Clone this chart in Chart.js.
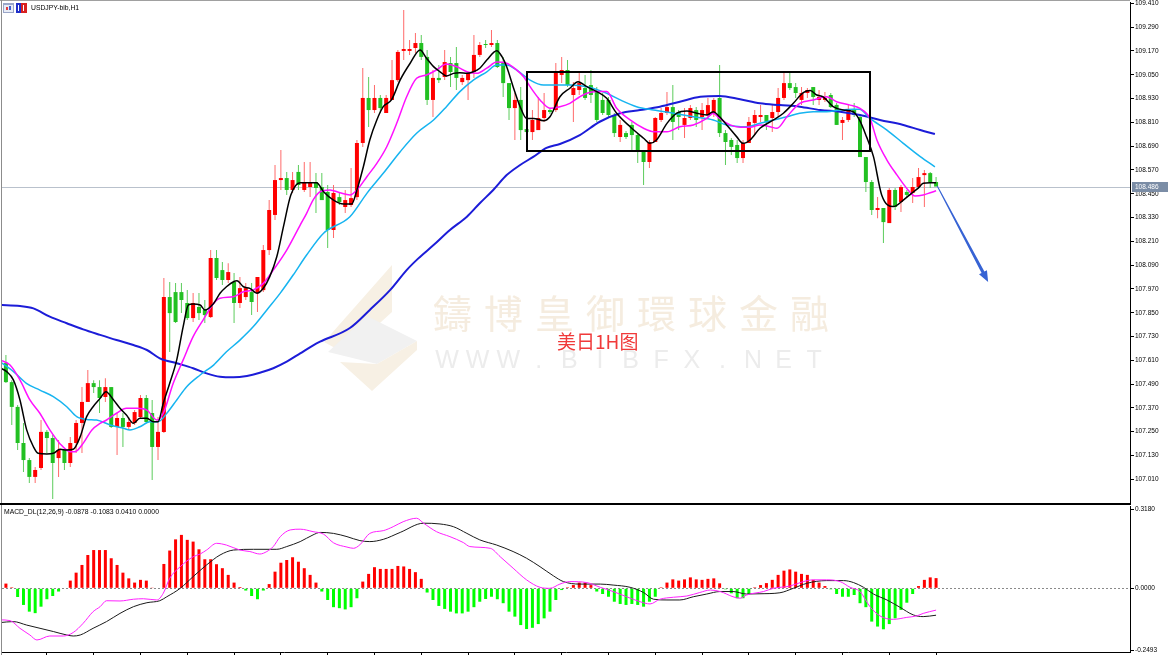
<!DOCTYPE html>
<html><head><meta charset="utf-8">
<script src="https://cdn.jsdelivr.net/npm/chart.js"></script>
<style>
html,body{margin:0;padding:0;background:#fff;overflow:hidden}
#wrap{position:relative;width:1170px;height:655px;background:#fff}
#main{position:absolute;left:0;top:0}
#macd{position:absolute;left:0;top:505px}
</style></head><body>
<div id="wrap">
<canvas id="main" width="1170" height="505"></canvas>
<canvas id="macd" width="1170" height="150"></canvas>
</div>
<script>
// ---------------- DATA ----------------
const symbolTitle = 'USDJPY-bib,H1';
const macdTitle = 'MACD_DL(12,26,9)';
const macdReadout = ['-0.0878', '-0.1083', '0.0410', '0.0000'];
const lastPrice = 108.486;

const open = [107.596,107.500,107.375,107.193,107.107,107.022,107.067,107.249,107.218,107.117,
107.158,107.092,107.193,107.294,107.400,107.495,107.475,107.425,107.475,107.274,
107.319,107.274,107.294,107.324,107.420,107.344,107.173,107.249,107.929,107.954,
107.954,107.899,107.823,107.879,107.864,107.828,108.126,108.065,108.015,108.005,
107.899,107.929,107.954,107.949,107.964,108.166,108.343,108.519,108.529,108.469,
108.560,108.469,108.484,108.509,108.484,108.459,108.267,108.433,108.383,108.393,
108.433,108.706,108.933,108.872,108.933,108.857,108.923,109.023,109.170,109.170,
109.185,109.210,109.140,108.923,109.034,109.039,109.109,109.109,109.013,109.023,
109.064,109.150,109.205,109.200,109.210,109.109,109.008,108.882,108.923,108.776,
108.761,108.771,108.832,108.872,108.872,109.049,109.074,108.948,108.973,108.983,
108.998,108.963,108.923,108.923,108.847,108.736,108.756,108.797,108.746,108.670,
108.610,108.711,108.822,108.857,108.887,108.862,108.797,108.832,108.872,108.837,
108.847,108.857,108.933,108.756,108.721,108.696,108.630,108.706,108.807,108.837,
108.847,108.832,108.862,108.933,109.008,108.988,108.923,108.958,108.988,108.923,
108.923,108.948,108.898,108.807,108.822,108.872,108.837,108.635,108.509,108.368,
108.378,108.302,108.469,108.408,108.459,108.454,108.484,108.544,108.554,108.509];

const high = [107.637,107.510,107.385,107.294,107.117,107.072,107.309,107.259,107.234,107.208,
107.158,107.223,107.309,107.475,107.561,107.510,107.510,107.520,107.475,107.344,
107.344,107.324,107.359,107.435,107.435,107.410,107.324,108.025,108.005,108.000,
108.000,107.964,107.949,107.949,107.914,108.166,108.166,108.106,108.100,108.050,
108.030,108.000,108.000,108.030,108.191,108.418,108.595,108.670,108.560,108.560,
108.595,108.610,108.610,108.554,108.554,108.494,108.494,108.454,108.469,108.580,
108.721,109.084,109.039,108.998,108.948,108.948,109.124,109.175,109.377,109.225,
109.261,109.250,109.175,109.074,109.099,109.175,109.140,109.190,109.049,109.064,
109.250,109.215,109.225,109.276,109.225,109.140,109.008,108.958,108.988,108.786,
108.872,108.938,108.958,108.882,109.109,109.140,109.124,109.013,109.064,109.049,
109.074,108.988,108.958,108.938,108.857,108.822,108.766,108.812,108.756,108.670,
108.721,108.837,108.882,108.963,108.998,108.872,108.882,108.897,108.887,108.907,
108.933,108.933,109.099,108.771,108.731,108.721,108.721,108.837,108.872,108.897,
108.847,108.897,108.983,109.059,109.059,109.008,108.988,108.983,108.988,108.973,
108.963,108.958,108.907,108.837,108.897,108.907,108.847,108.635,108.519,108.433,
108.378,108.479,108.479,108.494,108.469,108.529,108.580,108.570,108.560,108.534];

const low = [107.495,107.284,107.158,107.047,106.991,106.991,107.057,107.143,106.910,107.022,
107.057,107.072,107.143,107.143,107.400,107.445,107.344,107.400,107.269,107.133,
107.173,107.259,107.284,107.319,107.299,107.006,107.107,107.244,107.652,107.798,
107.848,107.813,107.803,107.813,107.798,107.823,108.015,107.990,108.000,107.798,
107.874,107.914,107.838,107.853,107.954,108.141,108.317,108.469,108.444,108.454,
108.469,108.459,108.434,108.353,108.418,108.176,108.227,108.393,108.353,108.383,
108.418,108.686,108.787,108.857,108.857,108.857,108.923,109.013,109.124,109.150,
109.160,109.124,108.897,108.837,109.008,109.023,108.988,108.973,108.998,108.923,
109.034,109.140,109.185,109.190,109.084,108.938,108.822,108.721,108.721,108.756,
108.721,108.771,108.812,108.852,108.862,109.008,108.988,108.812,108.948,108.923,
108.907,108.812,108.847,108.837,108.736,108.711,108.726,108.670,108.605,108.494,
108.580,108.711,108.812,108.847,108.721,108.771,108.731,108.822,108.787,108.771,
108.832,108.837,108.736,108.595,108.645,108.605,108.605,108.706,108.746,108.812,
108.771,108.761,108.837,108.923,108.973,108.933,108.897,108.933,108.897,108.897,
108.913,108.882,108.797,108.721,108.812,108.837,108.635,108.459,108.343,108.327,
108.201,108.302,108.368,108.358,108.433,108.403,108.479,108.383,108.479,108.494];

const close = [107.500,107.375,107.193,107.107,107.022,107.057,107.249,107.218,107.092,107.158,
107.092,107.193,107.294,107.400,107.495,107.475,107.420,107.475,107.274,107.319,
107.274,107.299,107.349,107.420,107.299,107.173,107.249,107.929,107.848,107.803,
107.914,107.823,107.899,107.848,107.838,108.126,108.025,108.015,108.055,107.899,
107.974,107.974,107.904,108.030,108.166,108.368,108.519,108.529,108.469,108.519,
108.494,108.509,108.504,108.479,108.418,108.267,108.454,108.408,108.418,108.428,
108.706,108.933,108.872,108.933,108.882,108.933,109.023,109.165,109.180,109.180,
109.210,109.140,108.923,109.034,109.023,109.114,109.064,109.034,109.034,109.059,
109.150,109.200,109.200,109.210,109.089,109.008,108.882,108.923,108.771,108.761,
108.822,108.832,108.872,108.862,109.059,109.074,108.998,108.983,109.008,108.933,
108.948,108.822,108.857,108.847,108.756,108.797,108.736,108.746,108.670,108.610,
108.711,108.832,108.857,108.887,108.812,108.837,108.832,108.882,108.822,108.872,
108.897,108.923,108.756,108.711,108.686,108.630,108.706,108.812,108.847,108.847,
108.812,108.862,108.933,109.008,108.983,108.958,108.958,108.973,108.938,108.938,
108.933,108.887,108.797,108.822,108.872,108.847,108.635,108.509,108.368,108.378,
108.307,108.469,108.383,108.484,108.444,108.484,108.534,108.554,108.509,108.486];

// moving averages: [bar, price]
const maBlack = [[-1,107.571],[0.13,107.553],[1.27,107.511],[2.4,107.410],[3.55,107.259],[4.7,107.174],[5.5,107.141],[7,107.138],[8.1,107.141],[9.25,107.161],[10.4,107.158],[11.5,107.161],[12.7,107.225],[13.8,107.326],[14.9,107.376],[16.1,107.418],[17.1,107.452],[18.4,107.410],[19.5,107.368],[20.6,107.334],[21.8,107.292],[22.9,107.318],[24.1,107.318],[25.2,107.300],[26,107.300],[26.9,107.393],[28,107.494],[29.2,107.612],[30.3,107.780],[31.2,107.889],[32,107.894],[33.2,107.889],[34,107.864],[35.5,107.897],[36.6,107.948],[37.7,107.981],[38.9,108.006],[39.5,108.011],[40.6,107.981],[41.7,107.973],[42.9,107.948],[44,107.973],[45.1,108.032],[46.3,108.132],[47.5,108.292],[48.7,108.444],[50.3,108.506],[53.1,108.506],[54.3,108.460],[56,108.418],[57.7,108.398],[59.1,108.398],[60,108.469],[61.1,108.586],[62.2,108.721],[63.4,108.822],[64.5,108.889],[65.9,108.923],[67.4,109.024],[69.1,109.108],[70.8,109.175],[71.9,109.133],[73.1,109.091],[74.2,109.065],[75.3,109.044],[76.5,109.057],[77.6,109.060],[78.8,109.057],[79.9,109.065],[81,109.083],[82.2,109.124],[83.9,109.171],[84.8,109.141],[85.6,109.090],[86.7,108.990],[87.9,108.889],[89,108.830],[90.2,108.830],[91.9,108.818],[93,108.838],[94.7,108.939],[96.4,108.982],[97.8,109.015],[99.3,108.990],[101,108.965],[102.7,108.931],[104.4,108.856],[106.7,108.788],[109,108.730],[110.1,108.704],[111.2,108.721],[113,108.805],[114.7,108.856],[116.4,108.867],[118.1,108.856],[119.8,108.847],[120.9,108.864],[122,108.838],[123.2,108.797],[124.9,108.738],[126,108.704],[127.2,108.721],[128.9,108.780],[131.2,108.822],[132.9,108.856],[134.6,108.906],[136.3,108.960],[137.5,108.970],[138.6,108.948],[139.7,108.939],[141.4,108.889],[143.1,108.872],[144.8,108.864],[145.9,108.822],[147.1,108.738],[148.3,108.637],[149.7,108.444],[151.7,108.385],[153.4,108.418],[154.8,108.452],[155.9,108.477],[156.8,108.503],[158,108.506],[159,108.506]];

const maMagenta = [[-1,107.612],[0.7,107.586],[2.4,107.511],[4.1,107.410],[5.8,107.343],[7.5,107.259],[9.2,107.191],[11,107.149],[11.8,107.149],[13.2,107.191],[14.7,107.259],[16.1,107.292],[17.2,107.309],[18.9,107.343],[20.6,107.368],[22.4,107.368],[24.1,107.359],[25.8,107.309],[26.9,107.343],[28.6,107.494],[30.3,107.612],[32,107.729],[33.7,107.813],[35.5,107.897],[36.6,107.923],[38.9,107.931],[40.6,107.956],[42.3,107.965],[44,107.998],[45.7,108.065],[48,108.166],[50.3,108.292],[51.4,108.351],[52.5,108.418],[53.7,108.460],[55.4,108.469],[57.1,108.455],[58.8,108.444],[60,108.469],[61.7,108.536],[63.4,108.603],[65.1,108.687],[66.8,108.805],[68.5,108.939],[70.2,109.032],[71.9,109.049],[73.6,109.074],[75.3,109.104],[77.1,109.090],[78.8,109.065],[80.5,109.057],[82.2,109.083],[83.9,109.114],[85.6,109.108],[87.3,109.074],[88.5,109.040],[89.6,108.990],[91.3,108.923],[93,108.881],[94.7,108.889],[96.4,108.906],[98.1,108.939],[99.3,108.957],[101,108.965],[102.7,108.965],[104.4,108.881],[106.7,108.822],[109,108.780],[110.7,108.763],[113,108.763],[115.2,108.788],[117.5,108.797],[119.8,108.830],[120.9,108.856],[122,108.830],[123.8,108.797],[125.5,108.785],[127.2,108.785],[128.9,108.797],[130.6,108.788],[131.8,108.780],[133.5,108.838],[135.7,108.906],[138,108.923],[140.3,108.939],[142,108.914],[144.3,108.897],[146,108.880],[147.7,108.830],[148.9,108.720],[150.6,108.620],[152.3,108.545],[154,108.477],[155.4,108.439],[156.8,108.444],[158,108.455],[159,108.465]];

const maCyan = [[-1,107.603],[1.3,107.553],[3.5,107.494],[5.8,107.460],[8.1,107.427],[10.4,107.376],[12.1,107.326],[13.8,107.312],[15.5,107.309],[17.8,107.284],[20.1,107.267],[21.2,107.259],[22.9,107.275],[24.6,107.300],[26,107.300],[27.5,107.343],[29.2,107.410],[30.9,107.477],[33.2,107.536],[35.5,107.586],[37.7,107.653],[40,107.712],[42.3,107.780],[44.6,107.864],[46.9,107.949],[49.1,108.040],[51.4,108.141],[54.3,108.251],[58.8,108.334],[61.7,108.452],[64.5,108.553],[67.4,108.662],[70.2,108.755],[73.1,108.822],[75.3,108.889],[77.6,108.965],[79.9,109.023],[82.2,109.065],[83.9,109.099],[85.6,109.099],[87.3,109.074],[89.6,109.023],[91.9,108.998],[94.7,108.998],[96.4,108.998],[99.3,108.990],[102.7,108.957],[105,108.923],[107.8,108.889],[110.7,108.872],[114.1,108.856],[117.5,108.838],[120.9,108.822],[123.2,108.797],[126.6,108.788],[128.9,108.805],[131.2,108.822],[133.5,108.838],[135.7,108.856],[138,108.864],[140.3,108.864],[142.6,108.872],[144.8,108.876],[145.9,108.876],[147.7,108.830],[150.6,108.771],[153.4,108.704],[156.3,108.637],[158.8,108.586]];

const maBlue = [[-1,107.889],[2.4,107.884],[4.7,107.872],[7.5,107.830],[10.4,107.797],[13.2,107.766],[16.1,107.738],[18.9,107.712],[21.8,107.687],[24.1,107.662],[26.3,107.620],[29.2,107.595],[32,107.570],[34.3,107.544],[36.6,107.527],[38.9,107.524],[41.2,107.531],[43.4,107.547],[45.7,107.570],[48,107.603],[50.3,107.645],[52.6,107.687],[53.7,107.704],[58.8,107.773],[62.2,107.864],[65.7,107.965],[68.5,108.065],[70.5,108.124],[73.1,108.191],[75.9,108.267],[78.8,108.334],[81,108.402],[83.3,108.469],[85.6,108.544],[87.9,108.595],[90.2,108.637],[92.4,108.681],[94.7,108.701],[98.1,108.746],[101.5,108.813],[105,108.856],[108.4,108.872],[111.8,108.889],[115.2,108.914],[118.7,108.939],[122,108.943],[125.5,108.926],[128.9,108.906],[132.3,108.897],[135.7,108.889],[139.2,108.872],[142.6,108.864],[146,108.847],[149.4,108.822],[153.4,108.797],[156.3,108.771],[158.8,108.751]];

const macdHist = [0.019,0.004,-0.035,-0.067,-0.094,-0.100,-0.074,-0.044,-0.031,-0.013,
0.000,0.031,0.063,0.094,0.134,0.154,0.154,0.154,0.121,0.094,
0.063,0.040,0.023,0.034,0.031,0.001,-0.002,0.098,0.152,0.197,
0.215,0.195,0.188,0.157,0.117,0.117,0.097,0.081,0.054,0.023,
0.005,-0.009,-0.031,-0.044,-0.009,0.017,0.067,0.103,0.114,0.125,
0.107,0.081,0.054,0.023,-0.013,-0.047,-0.076,-0.080,-0.085,-0.076,
-0.040,0.027,0.058,0.085,0.078,0.078,0.078,0.090,0.088,0.078,
0.065,0.038,-0.017,-0.047,-0.071,-0.083,-0.094,-0.101,-0.101,-0.094,
-0.076,-0.054,-0.043,-0.034,-0.044,-0.060,-0.094,-0.114,-0.148,-0.164,
-0.159,-0.144,-0.121,-0.094,-0.047,-0.007,0.004,0.013,0.023,0.023,
0.013,-0.013,-0.023,-0.034,-0.054,-0.063,-0.067,-0.063,-0.067,-0.074,
-0.054,-0.034,0.004,0.023,0.036,0.031,0.036,0.044,0.036,0.034,
0.038,0.040,0.020,-0.004,-0.020,-0.040,-0.040,-0.023,0.004,0.013,
0.021,0.034,0.054,0.071,0.076,0.067,0.058,0.054,0.034,0.023,
0.009,-0.004,-0.023,-0.034,-0.034,-0.027,-0.060,-0.076,-0.134,-0.154,
-0.165,-0.144,-0.121,-0.087,-0.058,-0.023,0.009,0.034,0.044,0.041];

const macdSignal = [[-1,-0.138],[1.27,-0.134],[3.55,-0.148],[5.83,-0.161],[8.1,-0.174],[10.4,-0.188],[11.5,-0.192],[12.7,-0.188],[14.9,-0.161],[17.2,-0.134],[19.5,-0.101],[21.8,-0.074],[24.1,-0.058],[26.3,-0.050],[27.5,-0.034],[29.8,0.000],[32,0.047],[34.3,0.094],[36.6,0.134],[38.9,0.154],[42.3,0.157],[46.3,0.157],[48,0.168],[50.3,0.188],[52.5,0.215],[53.7,0.225],[56,0.221],[58.3,0.208],[60.5,0.192],[62.2,0.188],[64.5,0.197],[67.4,0.225],[71.4,0.262],[74.2,0.259],[76.5,0.248],[78.8,0.221],[81,0.195],[83.9,0.174],[86.7,0.148],[89,0.121],[91.3,0.087],[93.6,0.050],[95.3,0.027],[98.1,0.017],[101.6,0.017],[103.8,0.013],[106.7,0.004],[109,-0.017],[110.7,-0.044],[113,-0.047],[115.2,-0.047],[117.5,-0.034],[119.8,-0.023],[122.1,-0.013],[124.3,-0.013],[126.6,-0.023],[128.9,-0.022],[132.3,-0.018],[134.6,0.000],[136.9,0.020],[140.3,0.031],[143.2,0.031],[144.9,0.023],[146.6,0.004],[148.3,-0.023],[150.6,-0.047],[152.8,-0.076],[155.1,-0.107],[156.8,-0.114],[159,-0.1083]];

const macdMain = [[-1,-0.127],[0.7,-0.130],[2.4,-0.161],[4.1,-0.188],[5.3,-0.208],[7.5,-0.192],[9.8,-0.192],[11.5,-0.178],[13.2,-0.141],[14.9,-0.094],[16.1,-0.074],[17.2,-0.050],[19.5,-0.051],[21.8,-0.044],[23.5,-0.042],[25.8,-0.047],[26.9,-0.020],[28,0.040],[29.8,0.087],[32,0.127],[33.2,0.138],[34.3,0.154],[36,0.181],[37.7,0.174],[40,0.154],[41.7,0.148],[43.4,0.138],[44.6,0.148],[45.7,0.168],[46.9,0.208],[48.6,0.235],[50.3,0.238],[52.5,0.228],[54.3,0.218],[56,0.183],[58.3,0.166],[59.4,0.161],[60.5,0.175],[62.2,0.221],[64.5,0.232],[66.2,0.248],[67.9,0.268],[70.2,0.282],[71.4,0.262],[73.6,0.228],[75.9,0.208],[78.2,0.184],[79.3,0.168],[82.8,0.161],[84.5,0.127],[86.7,0.081],[89,0.034],[91.3,0.004],[93,0.000],[94.7,0.017],[96.4,0.027],[99.3,0.023],[101.6,0.004],[103.8,-0.013],[106.1,-0.034],[108.4,-0.054],[110.1,-0.063],[111.8,-0.044],[114.1,-0.036],[116.4,-0.031],[118.6,-0.017],[120.4,-0.007],[122.1,-0.013],[124.3,-0.034],[125.5,-0.040],[126.6,-0.027],[129.5,-0.013],[131.2,0.000],[134,0.009],[136.3,0.027],[138,0.034],[140.3,0.034],[142.6,0.027],[144.3,0.004],[146,-0.013],[147.7,-0.074],[149.4,-0.111],[151.7,-0.125],[154,-0.117],[155.7,-0.111],[156.8,-0.101],[159,-0.0878]];

// axis ticks
const priceTicks = [109.41,109.29,109.17,109.05,108.93,108.81,108.69,108.57,108.45,108.33,108.21,108.09,107.97,107.85,107.73,107.61,107.49,107.37,107.25,107.13,107.01];
const macdTicks = [0.318, 0, -0.2493];
const timeTicks = [7,15,23,31,39,47,55,63,71,79,87,95,103,111,119,127,135,143,151,159];

// drawn annotations (in bar / price units)
const rangeBox = {from: 89.1, to: 147.7, top: 109.064, bottom: 108.665};
const arrowFrom = [159.2, 108.489];
const arrowTo = [167.9, 108.005];

// ---------------- CHARTS ----------------
const xMin = -0.67, xMax = 192.15;
const priceMin = 106.8904, priceMax = 109.4169;
const macdMin = -0.2564, macdMax = 0.3313;
const FONT = '"Liberation Sans", Arial, sans-serif';

const bars = open.map((_, i) => i);
const upBar = bars.map(i => close[i] >= open[i]);
const pts = arr => arr.map(p => ({x: p[0], y: p[1]}));

function poly(ctx, p, color) {
  ctx.fillStyle = color;
  ctx.beginPath();
  ctx.moveTo(p[0][0], p[0][1]);
  for (let k = 1; k < p.length; k++) ctx.lineTo(p[k][0], p[k][1]);
  ctx.closePath();
  ctx.fill();
}

const mainDecor = {
  id: 'mainDecor',
  beforeDatasetsDraw(chart) {
    const {ctx, chartArea: a, scales: {y}} = chart;
    ctx.save();
    poly(ctx, [[324,342],[392,265],[392,312],[346,354]], '#f7f0e4');
    poly(ctx, [[328,352],[367,316],[417,341],[377,364]], '#f1f1f1');
    poly(ctx, [[340,362],[377,364],[417,341],[417,350],[372,391]], '#f7f0e4');
    ctx.textBaseline = 'middle';
    ctx.textAlign = 'left';
    ctx.font = '39px "Noto Sans CJK TC"';
    ctx.fillStyle = '#f5ecdf';
    [...'鑄博皇御環球金融'].forEach((ch, k) => ctx.fillText(ch, 433 + k * 51, 313));
    ctx.font = '25px "Liberation Sans"';
    ctx.fillStyle = '#ececec';
    ctx.textAlign = 'center';
    [...'WWW.BIBFX.NET'].forEach((ch, k) => ctx.fillText(ch, 447 + k * 30.6, 361));
    ctx.textAlign = 'left';
    ctx.font = '19px "Noto Sans CJK SC"';
    ctx.fillStyle = '#f03a3a';
    ctx.fillText('美日1H图', 557, 342);
    const py = Math.round(y.getPixelForValue(lastPrice)) + 0.5;
    ctx.strokeStyle = '#b9c1cc';
    ctx.lineWidth = 1;
    ctx.beginPath(); ctx.moveTo(a.left, py); ctx.lineTo(a.right, py); ctx.stroke();
    ctx.restore();
  },
  afterDatasetsDraw(chart) {
    const {ctx, scales: {x, y}} = chart;
    ctx.save();
    const bx0 = x.getPixelForValue(rangeBox.from), bx1 = x.getPixelForValue(rangeBox.to);
    const by0 = y.getPixelForValue(rangeBox.top), by1 = y.getPixelForValue(rangeBox.bottom);
    ctx.strokeStyle = '#000';
    ctx.lineWidth = 2;
    ctx.strokeRect(Math.round(bx0), Math.round(by0), Math.round(bx1 - bx0), Math.round(by1 - by0));
    const x1 = x.getPixelForValue(arrowFrom[0]), y1 = y.getPixelForValue(arrowFrom[1]);
    const x2 = x.getPixelForValue(arrowTo[0]), y2 = y.getPixelForValue(arrowTo[1]);
    const ang = Math.atan2(y2 - y1, x2 - x1);
    const nx = -Math.sin(ang), ny = Math.cos(ang);
    const hl = 11, hw = 4.5;
    const hx = x2 - Math.cos(ang) * hl, hy = y2 - Math.sin(ang) * hl;
    ctx.fillStyle = '#3763d4';
    ctx.beginPath();
    ctx.moveTo(x1 + nx * 0.5, y1 + ny * 0.5);
    ctx.lineTo(hx + nx * 1.6, hy + ny * 1.6);
    ctx.lineTo(hx + nx * hw, hy + ny * hw);
    ctx.lineTo(x2, y2);
    ctx.lineTo(hx - nx * hw, hy - ny * hw);
    ctx.lineTo(hx - nx * 1.6, hy - ny * 1.6);
    ctx.lineTo(x1 - nx * 0.5, y1 - ny * 0.5);
    ctx.closePath();
    ctx.fill();
    ctx.restore();
  },
  afterDraw(chart) {
    const {ctx, chartArea: a, scales: {y}} = chart;
    ctx.save();
    ctx.fillStyle = '#a0a0a0';
    ctx.fillRect(0, 0, a.right, 1);
    ctx.fillStyle = '#8c8c8c';
    ctx.fillRect(1, 0, 1, 505);
    ctx.fillStyle = '#000';
    ctx.fillRect(0, 503, a.right + 1, 2);
    ctx.fillStyle = '#9aa6c8'; ctx.fillRect(3, 3, 11, 10);
    ctx.fillStyle = '#e8ecf6'; ctx.fillRect(4, 5, 9, 7);
    ctx.fillStyle = '#e04040'; ctx.fillRect(6, 7, 2, 3);
    ctx.fillStyle = '#4060d0'; ctx.fillRect(9, 6, 2, 4);
    ctx.fillStyle = '#2030c8'; ctx.fillRect(16, 3, 5, 10);
    ctx.fillStyle = '#d82020'; ctx.fillRect(21, 3, 6, 10);
    ctx.fillStyle = '#fff'; ctx.fillRect(18, 5, 1, 6); ctx.fillRect(23, 5, 1, 6);
    ctx.fillStyle = '#000';
    ctx.font = '6.8px ' + FONT;
    ctx.textBaseline = 'middle';
    ctx.textAlign = 'left';
    ctx.fillText(symbolTitle, 31, 8);
    const py = Math.round(y.getPixelForValue(lastPrice));
    ctx.fillStyle = '#7b8da6';
    ctx.fillRect(a.right + 2, py - 5, 36, 10);
    ctx.fillStyle = '#fff';
    ctx.font = '6.5px ' + FONT;
    ctx.fillText(lastPrice.toFixed(3), a.right + 5, py + 0.5);
    ctx.restore();
  }
};

const macdDecor = {
  id: 'macdDecor',
  beforeDatasetsDraw(chart) {
    const {ctx, chartArea: a, scales: {y}} = chart;
    ctx.save();
    const zy = Math.round(y.getPixelForValue(0)) + 0.5;
    ctx.strokeStyle = '#8a8a8a';
    ctx.setLineDash([2, 2]);
    ctx.lineWidth = 1;
    ctx.beginPath(); ctx.moveTo(a.left, zy); ctx.lineTo(a.right, zy); ctx.stroke();
    ctx.restore();
  },
  afterDraw(chart) {
    const {ctx} = chart;
    ctx.save();
    ctx.fillStyle = '#8c8c8c';
    ctx.fillRect(1, 0, 1, 150);
    ctx.fillStyle = '#000';
    ctx.font = '6.8px ' + FONT;
    ctx.textBaseline = 'middle';
    ctx.textAlign = 'left';
    ctx.fillText(macdTitle + ' ' + macdReadout.join(' '), 4, 7);
    ctx.restore();
  }
};

const lineStyle = (color, w) => ({type: 'line', borderColor: color, borderWidth: w, pointRadius: 0,
  cubicInterpolationMode: 'monotone', fill: false});

new Chart(document.getElementById('main'), {
  type: 'bar',
  data: {
    datasets: [
      Object.assign(lineStyle('#1c1cd8', 2), {data: pts(maBlue), order: 4}),
      Object.assign(lineStyle('#16b4f0', 1.5), {data: pts(maCyan), order: 3}),
      Object.assign(lineStyle('#ff10ff', 1.5), {data: pts(maMagenta), order: 2}),
      Object.assign(lineStyle('#000000', 1.5), {data: pts(maBlack), order: 1}),
      {type: 'bar', data: bars.map(i => ({x: i, y: [low[i], high[i]]})),
        backgroundColor: bars.map(i => upBar[i] ? '#ff6a6a' : '#5ccc5c'),
        barThickness: 1, grouped: false, inflateAmount: 0, order: 9},
      {type: 'bar', data: bars.map(i => ({x: i, y: [open[i], close[i]]})),
        backgroundColor: bars.map(i => upBar[i] ? '#ff0000' : '#22c022'),
        barThickness: 4, grouped: false, inflateAmount: 0, minBarLength: 1, order: 8}
    ]
  },
  options: {
    responsive: false, animation: false, events: [],
    layout: {padding: {left: 2, top: 2, right: 0, bottom: 2}},
    plugins: {legend: {display: false}, tooltip: {enabled: false}},
    scales: {
      x: {type: 'linear', min: xMin, max: xMax, display: false, offset: false},
      y: {position: 'right', min: priceMin, max: priceMax,
        afterBuildTicks: s => { s.ticks = priceTicks.map(v => ({value: v})); },
        afterFit: s => { s.width = 40; s.paddingTop = 0; s.paddingBottom = 0; },
        ticks: {callback: v => Number(v).toFixed(3), font: {family: FONT, size: 6.5}, color: '#000',
          padding: 1, autoSkip: false, maxRotation: 0},
        grid: {drawOnChartArea: false, drawTicks: true, tickLength: 4, color: '#000'},
        border: {display: true, color: '#000', width: 1}}
    }
  },
  plugins: [mainDecor]
});

new Chart(document.getElementById('macd'), {
  type: 'bar',
  data: {
    datasets: [
      Object.assign(lineStyle('#1a1a1a', 1), {data: pts(macdSignal), order: 2}),
      Object.assign(lineStyle('#ff20ff', 1), {data: pts(macdMain), order: 1}),
      {type: 'bar', data: bars.map(i => ({x: i, y: macdHist[i]})),
        backgroundColor: macdHist.map(v => v >= 0 ? '#ff0000' : '#00ff00'),
        barThickness: 3, grouped: false, inflateAmount: 0, order: 5}
    ]
  },
  options: {
    responsive: false, animation: false, events: [],
    layout: {padding: {left: 2, top: 1, right: 0, bottom: 0}},
    plugins: {legend: {display: false}, tooltip: {enabled: false}},
    scales: {
      x: {type: 'linear', min: xMin, max: xMax, position: 'bottom', offset: false,
        afterBuildTicks: s => { s.ticks = timeTicks.map(v => ({value: v})); },
        afterFit: s => { s.height = 3; },
        ticks: {display: false},
        grid: {drawOnChartArea: false, drawTicks: true, tickLength: 3, color: '#000', offset: false},
        border: {display: true, color: '#000', width: 1}},
      y: {position: 'right', min: macdMin, max: macdMax,
        afterBuildTicks: s => { s.ticks = macdTicks.map(v => ({value: v})); },
        afterFit: s => { s.width = 40; s.paddingTop = 0; s.paddingBottom = 0; },
        ticks: {callback: v => Number(v).toFixed(4), font: {family: FONT, size: 6.5}, color: '#000',
          padding: 1, autoSkip: false, maxRotation: 0},
        grid: {drawOnChartArea: false, drawTicks: true, tickLength: 4, color: '#000'},
        border: {display: true, color: '#000', width: 1}}
    }
  },
  plugins: [macdDecor]
});
</script>
</body></html>
